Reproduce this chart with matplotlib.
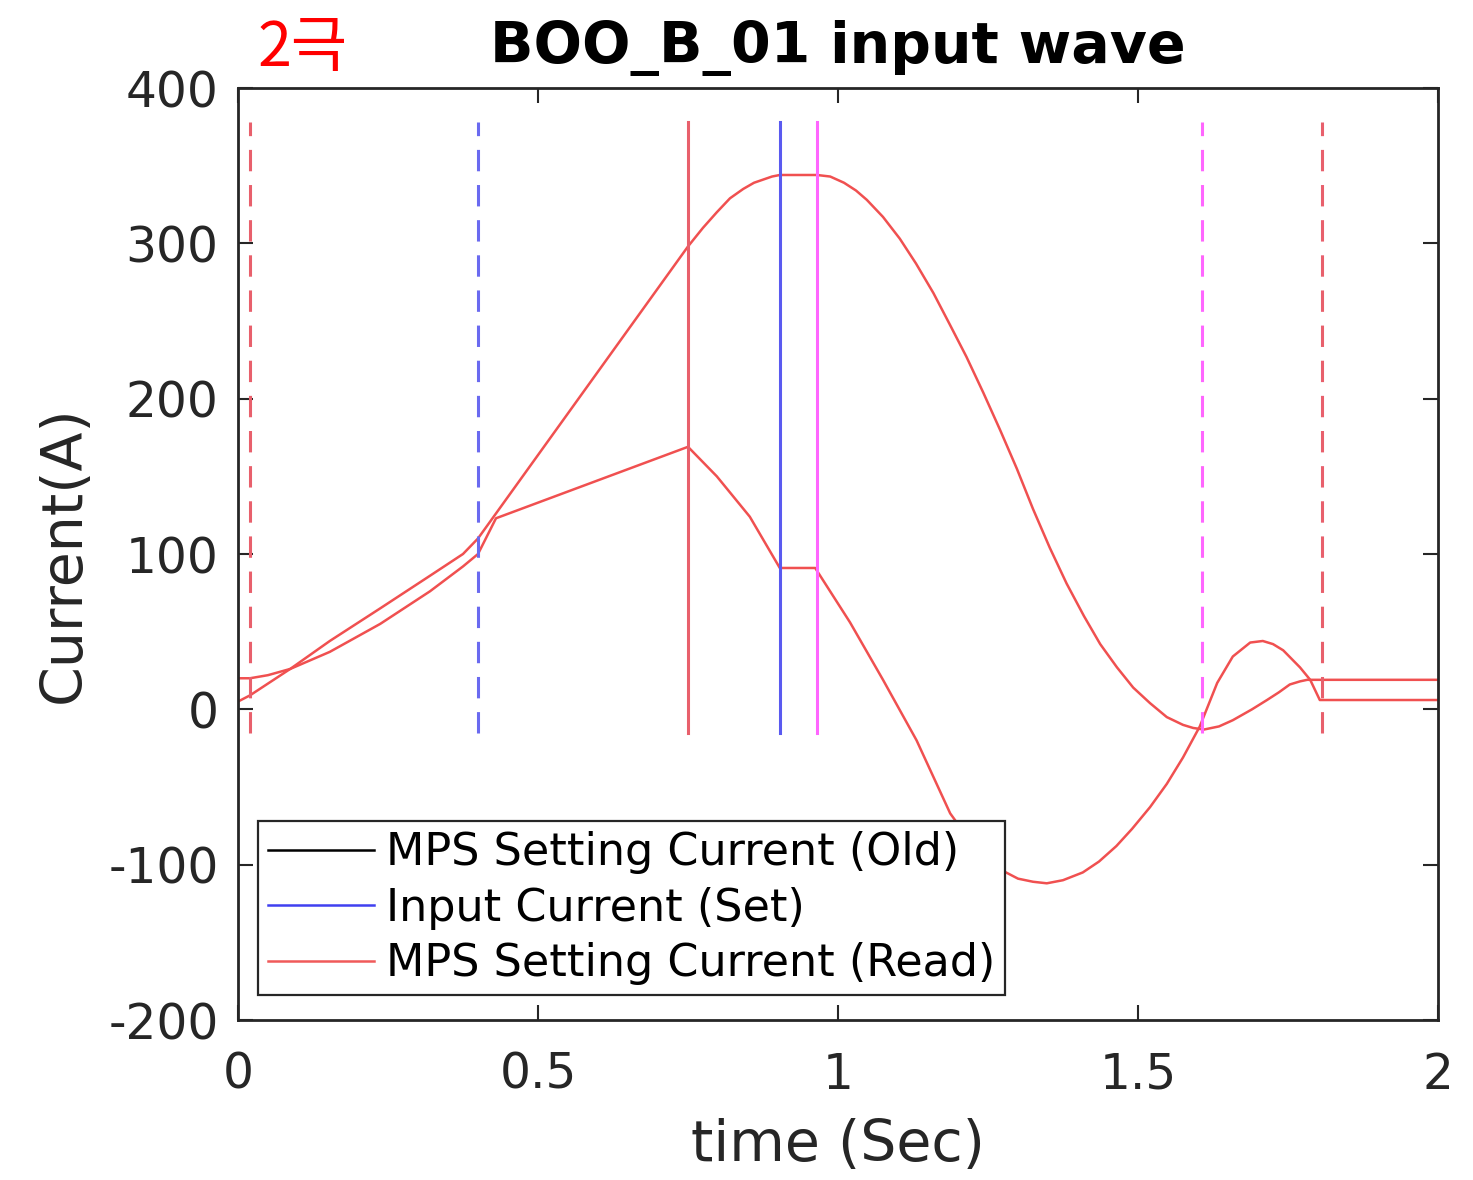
import numpy as np
import matplotlib
matplotlib.use("Agg")
import matplotlib.pyplot as plt

plt.rcParams["axes.unicode_minus"] = False

# values

# MPS setting current (Read), first trace
time_a = [0.0, 0.02, 0.087, 0.153, 0.237, 0.32, 0.375, 0.4, 0.75, 0.775, 0.798,
          0.82, 0.842, 0.86, 0.875, 0.89, 0.903, 0.965, 0.987, 1.01, 1.03,
          1.048, 1.075, 1.103, 1.13, 1.159, 1.186, 1.214, 1.242, 1.27, 1.298,
          1.325, 1.353, 1.381, 1.41, 1.437, 1.465, 1.492, 1.52, 1.548, 1.575,
          1.592, 1.61, 1.635, 1.658, 1.69, 1.715, 1.735, 1.753, 1.77, 1.782, 2.0]
current_a = [5, 9, 26, 44, 65, 86, 100, 110, 298, 310, 320,
             329, 335, 339, 341, 343, 344, 344, 343, 339, 334,
             328, 317, 303, 287, 268, 248, 227, 204, 180, 155,
             129, 104, 81, 60, 42, 27, 14, 4, -5, -10,
             -12, -13, -11, -7, 0, 6, 11, 16, 18, 19, 19]

# MPS setting current (Read), second trace
time_b = [0.0, 0.02, 0.05, 0.087, 0.153, 0.237, 0.32, 0.375, 0.4, 0.43, 0.75,
          0.798, 0.853, 0.903, 0.962, 1.02, 1.075, 1.131, 1.187, 1.215, 1.24,
          1.27, 1.3, 1.325, 1.348, 1.375, 1.408, 1.435, 1.464, 1.49, 1.52,
          1.548, 1.575, 1.603, 1.632, 1.658, 1.687, 1.708, 1.725, 1.742, 1.77,
          1.787, 1.803, 2.0]
current_b = [20, 20, 22, 26, 37, 55, 76, 92, 100, 123, 169,
             150, 124, 91, 91, 56, 19, -20, -67, -82, -93,
             -103, -109, -111, -112, -110, -105, -98, -88, -77, -63,
             -48, -31, -11, 17, 34, 43, 44, 42, 38, 27,
             19, 6, 6]

# vertical event markers
marker_times = [0.02, 0.4, 0.75, 0.903, 0.965, 1.607, 1.807]
marker_colors = ["#e8606c", "#6a6af0", "#e8606c", "#5a5af0", "#ff66ff", "#ff66ff", "#e8606c"]
marker_dashed = [True, True, False, False, False, True, True]
marker_lo, marker_hi = -15, 378

legend_labels = ["MPS Setting Current (Old)", "Input Current (Set)", "MPS Setting Current (Read)"]
legend_colors = ["black", "#4040f0", "#f05a5a"]

x_ticks = [0, 0.5, 1, 1.5, 2]
x_tick_labels = ["0", "0.5", "1", "1.5", "2"]
y_ticks = [-200, -100, 0, 100, 200, 300, 400]

fig = plt.figure(figsize=(14.73, 11.8), dpi=100)
ax = fig.add_axes([238 / 1473, 1 - 1020 / 1180, 1200 / 1473, 932 / 1180])

curve_color = "#f05050"
ax.plot(time_a, current_a, color=curve_color, lw=1.8, zorder=2)
ax.plot(time_b, current_b, color=curve_color, lw=1.8, zorder=2)

for t, c, d in zip(marker_times, marker_colors, marker_dashed):
    ln, = ax.plot([t, t], [marker_lo, marker_hi], color=c, lw=2.2, zorder=3)
    if d:
        ln.set_dashes((7, 4.5))

# legend handles
handles = []
for lab, col in zip(legend_labels, legend_colors):
    h, = ax.plot([], [], color=col, lw=1.8, label=lab)
    handles.append(h)

leg = ax.legend(handles=handles, loc="lower left", bbox_to_anchor=(0.0167, 0.027),
                borderaxespad=0, fontsize=32, handlelength=2.4, handletextpad=0.25,
                labelspacing=0.28, borderpad=0.22, fancybox=False, framealpha=1,
                edgecolor="#262626")
leg.get_frame().set_linewidth(1.6)
leg.set_zorder(5)

ax.set_xlim(0, 2)
ax.set_ylim(-200, 400)
ax.set_xticks(x_ticks)
ax.set_xticklabels(x_tick_labels)
ax.set_yticks(y_ticks)
ax.tick_params(direction="in", length=11, width=1.5, top=True, right=True,
               labelsize=35, colors="#262626")
ax.tick_params(axis="x", pad=22)
ax.tick_params(axis="y", pad=14)
for s in ax.spines.values():
    s.set_linewidth(2)
    s.set_color("#262626")

ax.set_xlabel("time (Sec)", fontsize=41, color="#262626", labelpad=14)
ax.set_ylabel("Current(A)", fontsize=41, color="#262626", labelpad=12)
ax.set_title("BOO_B_01 input wave", fontsize=41, fontweight="bold", pad=18)

fig.text(258 / 1473, 1 - 66 / 1180, "2극", color="red", fontsize=44,
         family=["Noto Sans CJK KR", "DejaVu Sans"], ha="left", va="baseline")

fig.savefig("out.png", dpi=100)
